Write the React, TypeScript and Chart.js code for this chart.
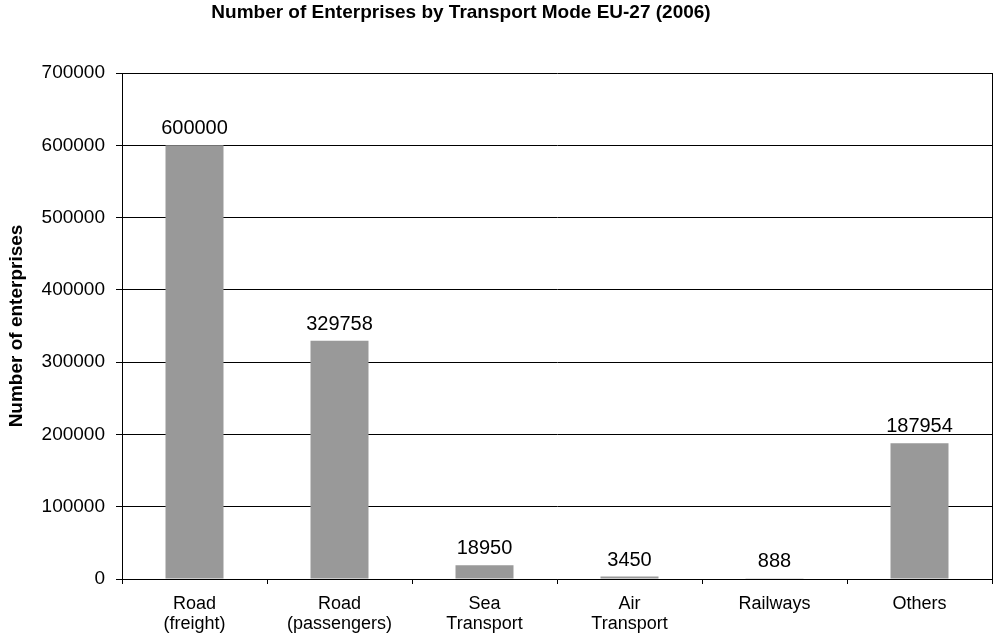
import React, { useEffect, useRef } from "react";
import { Chart, registerables } from "chart.js";

Chart.register(...registerables);

const TITLE = "Number of Enterprises by Transport Mode EU-27 (2006)";
const Y_TITLE = "Number of enterprises";
const categories: string[][] = [
  ["Road", "(freight)"],
  ["Road", "(passengers)"],
  ["Sea", "Transport"],
  ["Air", "Transport"],
  ["Railways"],
  ["Others"],
];
const values: number[] = [600000, 329758, 18950, 3450, 888, 187954];
const Y_MIN = 0;
const Y_MAX = 700000;
const Y_STEP = 100000;

const FONT = "'Liberation Sans', Arial, Helvetica, sans-serif";

const titlePlugin = {
  id: "customTitle",
  afterDraw(chart: any) {
    const ctx = chart.ctx;
    ctx.save();
    ctx.font = `bold 19px ${FONT}`;
    ctx.fillStyle = "#000";
    ctx.textAlign = "center";
    ctx.textBaseline = "middle";
    ctx.fillText(TITLE, 461, 13);
    ctx.restore();
  },
};

const valueLabels = {
  id: "valueLabels",
  afterDatasetsDraw(chart: any) {
    const ctx = chart.ctx;
    const meta = chart.getDatasetMeta(0);
    ctx.save();
    ctx.font = `20px ${FONT}`;
    ctx.fillStyle = "#000";
    ctx.textAlign = "center";
    ctx.textBaseline = "alphabetic";
    meta.data.forEach((bar: any, i: number) => {
      ctx.fillText(String(values[i]), bar.x, bar.y - 11);
    });
    ctx.restore();
  },
};

export default function App() {
  const ref = useRef<HTMLCanvasElement>(null);
  useEffect(() => {
    if (!ref.current) return;
    const chart = new Chart(ref.current, {
      type: "bar",
      data: {
        labels: categories,
        datasets: [
          {
            data: values,
            backgroundColor: "#999999",
            borderWidth: 0,
            barPercentage: 0.4,
            categoryPercentage: 1,
          },
        ],
      },
      options: {
        animation: false,
        responsive: false,
        devicePixelRatio: 1,
        layout: { padding: { top: 73, right: 2, bottom: 0, left: 0 } },
        plugins: {
          legend: { display: false },
          title: { display: false },
          tooltip: { enabled: false },
        },
        scales: {
          x: {
            offset: true,
            grid: {
              offset: true,
              drawOnChartArea: true,
              drawTicks: true,
              tickLength: 5,
              color: (c: any) => (c.type === "tick" ? "rgba(0,0,0,0)" : "#000"),
              tickColor: "#000",
              lineWidth: 1,
            },
            border: { display: true, color: "#000", width: 1 },
            ticks: {
              color: "#000",
              font: { family: FONT, size: 18, lineHeight: 1.1 },
              padding: 10,
              maxRotation: 0,
              autoSkip: false,
            },
            afterFit: (s: any) => {
              s.height = 60;
            },
          },
          y: {
            min: Y_MIN,
            max: Y_MAX,
            grid: {
              color: "#000",
              tickColor: "#000",
              tickLength: 6,
              lineWidth: 1,
            },
            border: { display: true, color: "#000", width: 1 },
            ticks: {
              stepSize: Y_STEP,
              color: "#000",
              font: { family: FONT, size: 19 },
              padding: 11,
              callback: (v: any) => String(v),
            },
            title: {
              display: true,
              text: Y_TITLE,
              color: "#000",
              font: { family: FONT, size: 19, weight: "bold" },
              padding: { top: 5, bottom: 0 },
            },
            afterFit: (s: any) => {
              s.width = 122;
            },
          },
        },
      },
      plugins: [titlePlugin, valueLabels],
    });
    return () => chart.destroy();
  }, []);
  return (
    <div style={{ position: "absolute", left: 0, top: 0, width: 994, height: 639, background: "#fff" }}>
      <canvas ref={ref} width={994} height={639} style={{ display: "block" }} />
    </div>
  );
}
